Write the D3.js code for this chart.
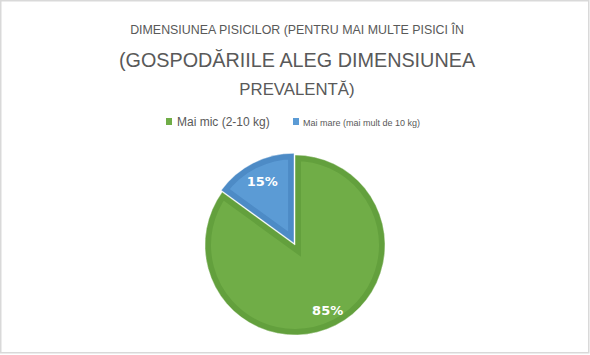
<!DOCTYPE html>
<html><head><meta charset="utf-8">
<script src="https://cdn.jsdelivr.net/npm/d3@7"></script>
<style>body{margin:0;background:#fff}svg{display:block}</style>
</head><body>
<svg id="chart" width="590" height="355"></svg>
<script>
const titleLines = ["DIMENSIUNEA PISICILOR (PENTRU MAI MULTE PISICI ÎN", "(GOSPODĂRIILE ALEG DIMENSIUNEA", "PREVALENTĂ)"];
const categories = ["Mai mic (2-10 kg)", "Mai mare (mai mult de 10 kg)"];
const values = [85, 15];
const labels = ["85%", "15%"];
const fills = ["#70AD47", "#5B9BD5"];
const strokes = ["#63A03D", "#4D8BC6"];

const svg = d3.select("#chart");
svg.append("rect").attr("x",0.75).attr("y",0.75).attr("width",588).attr("height",352)
  .attr("fill","#fff").attr("stroke","#d9d9d9").attr("stroke-width",1.5);

const font = "'Liberation Sans', Arial, sans-serif";
const tSizes = [12.4, 19.8, 16.8];
const tY = [34.3, 67, 95];
titleLines.forEach((t,i)=>{
  svg.append("text").attr("x",297).attr("y",tY[i]).attr("text-anchor","middle")
    .attr("font-family",font).attr("font-size",tSizes[i]).attr("fill","#595959").text(t);
});

// legend
const leg = [{x:166, size:12, tx:177}, {x:293, size:9, tx:303}];
categories.forEach((c,i)=>{
  svg.append("rect").attr("x",leg[i].x).attr("y",118).attr("width",6).attr("height",7).attr("fill",fills[i]);
  svg.append("text").attr("x",leg[i].tx).attr("y",125.5).attr("font-family",font)
    .attr("font-size",leg[i].size).attr("fill","#595959").text(c);
});

const cx = 295, cy = 245, r = 90;
const pie = d3.pie().sort(null).value(d=>d)(values);
const arc = d3.arc().innerRadius(0).outerRadius(r);
const g = svg.append("g").attr("transform",`translate(${cx},${cy})`);
const defs = svg.append("defs");
pie.forEach((p,i)=>{
  const mid = (p.startAngle+p.endAngle)/2;
  const off = i===1 ? 2 : 0;
  const dx = Math.sin(mid)*off, dy = -Math.cos(mid)*off;
  const id = "clip"+i;
  defs.append("clipPath").attr("id",id).append("path").attr("d",arc(p));
  const sg = g.append("g").attr("transform",`translate(${dx},${dy})`);
  sg.append("path").attr("d",arc(p)).attr("fill",fills[i])
    .attr("stroke",strokes[i]).attr("stroke-width",12).attr("clip-path",`url(#${id})`);
  sg.append("path").attr("d",arc(p)).attr("fill","none").attr("stroke","#fff").attr("stroke-width",0.8).attr("stroke-opacity",0.6);
});
const larc = d3.arc().innerRadius(r*0.8).outerRadius(r*0.8);
pie.forEach((p,i)=>{
  const [lx,ly] = larc.centroid(p);
  g.append("text").attr("x",lx).attr("y",ly+5.5).attr("text-anchor","middle")
    .attr("font-family","'DejaVu Sans', sans-serif").attr("font-weight","bold").attr("font-size",13)
    .attr("fill","#fff").text(labels[i]);
});
</script>
</body></html>
